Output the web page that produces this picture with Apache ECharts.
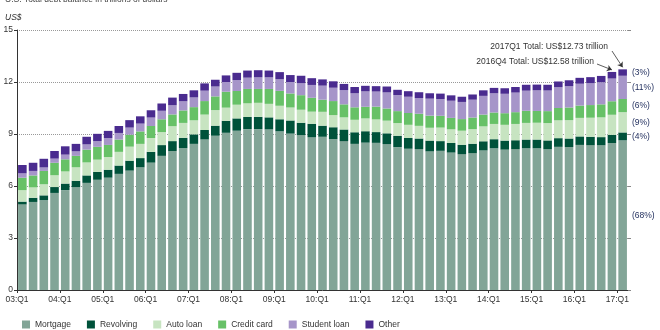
<!DOCTYPE html>
<html><head><meta charset="utf-8">
<script src="https://cdn.jsdelivr.net/npm/echarts@6/dist/echarts.min.js"></script>
<style>html,body{margin:0;padding:0;background:#fff}#c{width:660px;height:330px}</style>
</head><body><div id="c"></div>
<script>
const quarters = ['2003Q1','2003Q2','2003Q3','2003Q4','2004Q1','2004Q2','2004Q3','2004Q4',
'2005Q1','2005Q2','2005Q3','2005Q4','2006Q1','2006Q2','2006Q3','2006Q4',
'2007Q1','2007Q2','2007Q3','2007Q4','2008Q1','2008Q2','2008Q3','2008Q4',
'2009Q1','2009Q2','2009Q3','2009Q4','2010Q1','2010Q2','2010Q3','2010Q4',
'2011Q1','2011Q2','2011Q3','2011Q4','2012Q1','2012Q2','2012Q3','2012Q4',
'2013Q1','2013Q2','2013Q3','2013Q4','2014Q1','2014Q2','2014Q3','2014Q4',
'2015Q1','2015Q2','2015Q3','2015Q4','2016Q1','2016Q2','2016Q3','2016Q4','2017Q1'];

const tickLabels = ['03:Q1','04:Q1','05:Q1','06:Q1','07:Q1','08:Q1','09:Q1','10:Q1',
'11:Q1','12:Q1','13:Q1','14:Q1','15:Q1','16:Q1','17:Q1'];

const mortgage = [4.94,5.08,5.18,5.60,5.76,5.94,6.18,6.36,6.48,6.70,6.89,7.08,7.35,7.74,8.02,8.18,
8.43,8.69,8.90,9.07,9.19,9.28,9.28,9.27,9.15,9.02,8.94,8.82,8.84,8.70,8.59,8.43,
8.50,8.49,8.42,8.24,8.15,8.13,8.00,8.03,7.93,7.84,7.90,8.05,8.17,8.10,8.13,8.17,
8.17,8.12,8.26,8.25,8.37,8.36,8.35,8.48,8.63];
const revolving = [0.16,0.24,0.28,0.34,0.38,0.36,0.43,0.45,0.46,0.48,0.57,0.53,0.62,0.62,0.57,0.60,
0.55,0.54,0.58,0.69,0.71,0.70,0.71,0.69,0.70,0.76,0.71,0.77,0.64,0.69,0.67,0.67,
0.66,0.62,0.62,0.66,0.62,0.61,0.62,0.56,0.55,0.54,0.54,0.53,0.53,0.52,0.51,0.51,
0.51,0.51,0.50,0.49,0.49,0.48,0.47,0.47,0.46];
const autoLoan = [0.66,0.60,0.64,0.68,0.70,0.78,0.75,0.71,0.73,0.79,0.81,0.82,0.80,0.75,0.86,0.86,
0.81,0.89,0.90,0.76,0.79,0.79,0.81,0.78,0.78,0.75,0.75,0.70,0.80,0.70,0.70,0.72,
0.74,0.73,0.73,0.73,0.76,0.73,0.74,0.78,0.79,0.81,0.84,0.86,0.88,0.91,0.94,0.96,
0.97,1.00,1.03,1.06,1.07,1.10,1.14,1.16,1.17];
const creditCard = [0.72,0.69,0.77,0.72,0.70,0.66,0.74,0.74,0.70,0.71,0.69,0.72,0.69,0.74,0.68,0.72,
0.76,0.78,0.79,0.92,0.79,0.83,0.80,0.86,0.86,0.81,0.84,0.80,0.70,0.81,0.75,0.72,
0.67,0.74,0.70,0.69,0.68,0.70,0.70,0.68,0.66,0.67,0.67,0.68,0.66,0.67,0.68,0.70,
0.68,0.69,0.71,0.73,0.71,0.73,0.75,0.78,0.76];
const studentLoan = [0.25,0.26,0.20,0.24,0.27,0.26,0.30,0.33,0.40,0.38,0.41,0.45,0.49,0.49,0.53,0.53,
0.56,0.60,0.57,0.56,0.63,0.65,0.67,0.67,0.67,0.66,0.69,0.74,0.81,0.77,0.82,0.81,
0.89,0.87,0.93,0.93,0.94,0.90,0.98,0.97,0.99,0.99,1.03,1.08,1.11,1.12,1.13,1.16,
1.19,1.19,1.20,1.23,1.26,1.26,1.28,1.31,1.34];
const other = [0.48,0.47,0.50,0.44,0.48,0.43,0.44,0.42,0.41,0.40,0.43,0.42,0.42,0.42,0.44,0.42,
0.41,0.42,0.39,0.38,0.42,0.41,0.41,0.39,0.41,0.40,0.43,0.39,0.36,0.37,0.36,0.36,
0.32,0.31,0.34,0.30,0.32,0.34,0.31,0.31,0.31,0.30,0.30,0.32,0.31,0.32,0.32,0.34,
0.33,0.33,0.33,0.34,0.34,0.35,0.36,0.38,0.37];

const seriesNames = ['Mortgage','Revolving','Auto loan','Credit card','Student loan','Other'];
const seriesData = [mortgage, revolving, autoLoan, creditCard, studentLoan, other];
const colors = ['#82a597','#00523a','#c7e4c1','#67c167','#a695c9','#4a2b8f'];

const n = quarters.length;
const totals = quarters.map((q, i) => seriesData.reduce((s, arr) => s + arr[i], 0));
const last = n - 1;

// tick axis with band boundaries
const tickAxisData = [];
for (let i = 0; i <= n; i++) tickAxisData.push(i % 4 === 0 && tickLabels[i / 4] ? tickLabels[i / 4] : '');

const series = seriesData.map((arr, si) => ({
  name: seriesNames[si],
  type: 'bar',
  stack: 'debt',
  xAxisIndex: 0,
  yAxisIndex: 0,
  barCategoryGap: '20%',
  itemStyle: { color: colors[si] },
  data: arr.map((v, i) => i === last ? {
    value: v,
    label: {
      show: true, position: 'right', distance: 5,
      formatter: '(' + Math.round(v / totals[last] * 100) + '%)',
      color: '#1d2b5b', fontSize: 8.5, fontFamily: 'Liberation Sans'
    }
  } : v)
}));

series[5].markLine = {
  silent: true,
  animation: false,
  symbol: ['none', 'arrow'],
  symbolSize: 5,
  label: { show: false },
  lineStyle: { color: '#333', width: 0.8, type: 'solid' },
  data: [
    [{ x: 612, y: 51 }, { coord: [quarters[last], totals[last] + 0.12] }],
    [{ x: 597, y: 64 }, { coord: [quarters[last - 1], totals[last - 1] + 0.12] }]
  ]
};

const chart = echarts.init(document.getElementById('c'), null, { renderer: 'canvas' });
chart.setOption({
  animation: false,
  textStyle: { fontFamily: 'Liberation Sans' },
  grid: { left: 17, right: 32, top: 30, bottom: 40 },
  xAxis: [
    { type: 'category', data: quarters, show: false, boundaryGap: true },
    {
      type: 'category', data: tickAxisData, boundaryGap: false, position: 'bottom',
      axisLine: { show: true, lineStyle: { color: '#333', width: 1 } },
      axisTick: { show: true, length: 3, interval: (i, v) => v !== '', lineStyle: { color: '#333' } },
      axisLabel: { interval: 0, fontSize: 8.5, color: '#333', margin: 5 },
      splitLine: { show: false }
    }
  ],
  yAxis: [
    {
      type: 'value', min: 0, max: 15, interval: 3, position: 'left',
      axisLine: { show: true, lineStyle: { color: '#333', width: 1 } },
      axisTick: { show: true, length: 3, lineStyle: { color: '#333' } },
      axisLabel: { fontSize: 8.5, color: '#333', margin: 4 },
      splitLine: { show: true, lineStyle: { color: '#999', type: 'dotted', width: 1 } }
    },
    {
      type: 'value', min: 0, max: 15, interval: 3, position: 'right',
      axisLine: { show: false },
      axisTick: { show: true, length: 3, lineStyle: { color: '#888' } },
      axisLabel: { show: false },
      splitLine: { show: false }
    }
  ],
  legend: {
    left: 17, top: 315, itemWidth: 8, itemHeight: 8, itemGap: 16, icon: 'rect',
    textStyle: { fontSize: 8.5, color: '#333' },
    data: seriesNames
  },
  graphic: [
    { type: 'text', left: 5, top: -5, style: { text: 'U.S. Total debt balance in trillions of dollars', fontSize: 8.5, fill: '#444', fontFamily: 'Liberation Sans' } },
    { type: 'text', left: 5, top: 13, style: { text: 'US$', fontSize: 8.5, fontStyle: 'italic', fill: '#333', fontFamily: 'Liberation Sans' } },
    { type: 'text', x: 608, y: 47, style: { text: quarters[last] + ' Total: US$' + totals[last].toFixed(2) + ' trillion', align: 'right', verticalAlign: 'middle', fontSize: 8.5, fill: '#333', fontFamily: 'Liberation Sans' } },
    { type: 'text', x: 594, y: 62, style: { text: quarters[last - 1] + ' Total: US$' + totals[last - 1].toFixed(2) + ' trillion', align: 'right', verticalAlign: 'middle', fontSize: 8.5, fill: '#333', fontFamily: 'Liberation Sans' } }
  ],
  series: series
});
</script>
</body></html>
